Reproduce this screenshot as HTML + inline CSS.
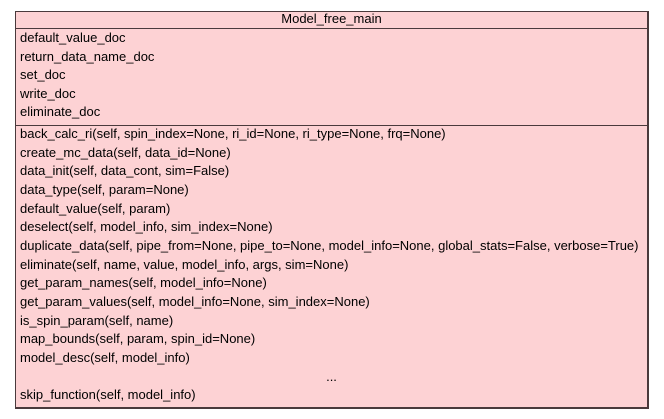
<!DOCTYPE html>
<html><head><style>
body{margin:0;width:664px;height:419px;background:#fff;position:relative;font-family:"Liberation Sans",Arial,sans-serif;font-size:13px;color:#000;overflow:hidden}
.box{position:absolute;left:15px;top:11px;width:631px;height:395px;background:#fdd2d4;border:1px solid #4a3a3c;border-right-width:2px;border-bottom-width:2px}
.hl{position:absolute;left:15px;width:633px;height:1px;background:#4a3a3c}
.t{position:absolute;left:20px;line-height:14px;white-space:nowrap}
</style></head><body>
<div class="box"></div>
<div class="hl" style="top:28px"></div>
<div class="hl" style="top:125px"></div>
<div class="t" style="left:15px;width:633px;text-align:center;top:12px">Model_free_main</div>
<div class="t" style="top:31px">default_value_doc</div>
<div class="t" style="top:50px">return_data_name_doc</div>
<div class="t" style="top:68px">set_doc</div>
<div class="t" style="top:87px">write_doc</div>
<div class="t" style="top:105px">eliminate_doc</div>
<div class="t" style="top:127px">back_calc_ri(self, spin_index=None, ri_id=None, ri_type=None, frq=None)</div>
<div class="t" style="top:146px">create_mc_data(self, data_id=None)</div>
<div class="t" style="top:164px">data_init(self, data_cont, sim=False)</div>
<div class="t" style="top:183px">data_type(self, param=None)</div>
<div class="t" style="top:202px">default_value(self, param)</div>
<div class="t" style="top:220px">deselect(self, model_info, sim_index=None)</div>
<div class="t" style="top:239px">duplicate_data(self, pipe_from=None, pipe_to=None, model_info=None, global_stats=False, verbose=True)</div>
<div class="t" style="top:258px">eliminate(self, name, value, model_info, args, sim=None)</div>
<div class="t" style="top:276px">get_param_names(self, model_info=None)</div>
<div class="t" style="top:295px">get_param_values(self, model_info=None, sim_index=None)</div>
<div class="t" style="top:314px">is_spin_param(self, name)</div>
<div class="t" style="top:332px">map_bounds(self, param, spin_id=None)</div>
<div class="t" style="top:351px">model_desc(self, model_info)</div>
<div class="t" style="left:15px;width:633px;text-align:center;top:370px">...</div>
<div class="t" style="top:388px">skip_function(self, model_info)</div>
</body></html>
